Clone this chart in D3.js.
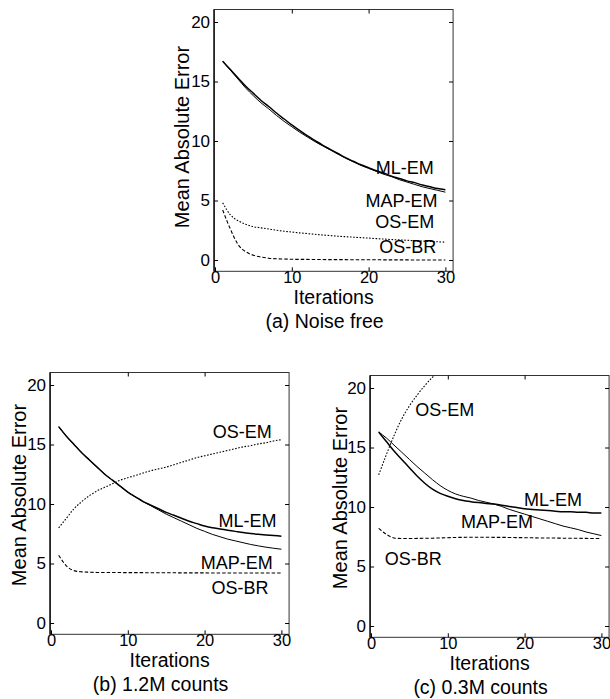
<!DOCTYPE html>
<html>
<head>
<meta charset="utf-8">
<script src="https://cdn.jsdelivr.net/npm/d3@7"></script>
<style>
body { margin: 0; background: #fff; }
text { font-family: "Liberation Sans", Arial, Helvetica, sans-serif; fill: #000; }
</style>
</head>
<body>
<script>
// iteration numbers shared by every curve
var iterations = [1, 2, 3, 4, 5, 6, 7, 8, 9, 10, 11, 12, 13, 14, 15,
                  16, 17, 18, 19, 20, 21, 22, 23, 24, 25, 26, 27, 28, 29, 30];

var seriesNames = ["ML-EM", "MAP-EM", "OS-EM", "OS-BR"];
var xTicks = [0, 10, 20, 30];
var yTicks = [0, 5, 10, 15, 20];

// (a) noise free
var freeML = [16.7, 16.0, 15.3, 14.6, 14.0, 13.4, 12.9, 12.35, 11.85, 11.35, 10.9, 10.45, 10.05, 9.65, 9.3,
              8.95, 8.6, 8.3, 8.0, 7.75, 7.5, 7.3, 7.05, 6.85, 6.65, 6.5, 6.3, 6.15, 6.0, 5.9];
var freeMAP = [16.7, 15.95, 15.2, 14.45, 13.8, 13.2, 12.7, 12.15, 11.65, 11.2, 10.75, 10.35, 9.95, 9.6, 9.25,
               8.9, 8.55, 8.25, 7.95, 7.7, 7.45, 7.2, 7.0, 6.75, 6.55, 6.35, 6.15, 6.0, 5.85, 5.7];
var freeOSEM = [4.8, 3.8, 3.3, 3.0, 2.8, 2.7, 2.6, 2.5, 2.42, 2.35, 2.28, 2.22, 2.16, 2.1, 2.05,
                2.0, 1.96, 1.92, 1.88, 1.84, 1.8, 1.76, 1.72, 1.69, 1.66, 1.62, 1.59, 1.56, 1.53, 1.5];
var freeOSBR = [4.2, 2.6, 1.3, 0.7, 0.4, 0.25, 0.15, 0.1, 0.08, 0.06, 0.05, 0.05, 0.04, 0.04, 0.03,
                0.03, 0.03, 0.02, 0.02, 0.02, 0.02, 0.01, 0.01, 0.01, 0.01, 0.0, 0.0, 0.0, 0.0, 0.0];

// (b) 1.2M counts
var highML = [16.5, 15.7, 15.0, 14.3, 13.7, 13.1, 12.5, 12.0, 11.5, 11.0, 10.6, 10.2, 9.9, 9.6, 9.3,
              9.05, 8.8, 8.55, 8.35, 8.15, 8.0, 7.9, 7.8, 7.7, 7.6, 7.52, 7.45, 7.4, 7.35, 7.3];
var highMAP = [16.5, 15.7, 15.0, 14.3, 13.7, 13.1, 12.5, 12.0, 11.5, 11.0, 10.6, 10.2, 9.85, 9.5, 9.15,
               8.85, 8.55, 8.25, 7.95, 7.7, 7.45, 7.25, 7.05, 6.9, 6.75, 6.6, 6.48, 6.37, 6.28, 6.2];
var highOSEM = [8.0, 8.8, 9.6, 10.2, 10.7, 11.1, 11.4, 11.7, 12.0, 12.2, 12.4, 12.6, 12.8, 12.95, 13.1,
                13.3, 13.5, 13.7, 13.9, 14.05, 14.2, 14.35, 14.5, 14.65, 14.8, 14.9, 15.05, 15.15, 15.3, 15.4];
var highOSBR = [5.7, 4.8, 4.4, 4.3, 4.27, 4.25, 4.25, 4.24, 4.24, 4.23, 4.23, 4.23, 4.22, 4.22, 4.22,
                4.22, 4.21, 4.21, 4.21, 4.21, 4.2, 4.2, 4.2, 4.2, 4.2, 4.2, 4.2, 4.2, 4.2, 4.2];

// (c) 0.3M counts
var lowML = [16.3, 15.5, 14.7, 14.0, 13.3, 12.6, 12.0, 11.5, 11.15, 10.9, 10.7, 10.55, 10.45, 10.37, 10.3,
             10.25, 10.15, 10.05, 9.95, 9.85, 9.8, 9.75, 9.7, 9.65, 9.6, 9.6, 9.55, 9.55, 9.5, 9.5];
var lowMAP = [16.3, 15.8, 15.2, 14.6, 14.0, 13.4, 12.85, 12.3, 11.8, 11.4, 11.1, 10.9, 10.75, 10.55, 10.4,
              10.25, 10.05, 9.8, 9.6, 9.4, 9.2, 9.0, 8.8, 8.6, 8.4, 8.25, 8.1, 7.9, 7.75, 7.6];
var lowOSEM = [12.7, 14.4, 16.0, 17.4, 18.5, 19.4, 20.2, 20.9, 21.5, 22.1];
var lowOSBR = [8.2, 7.7, 7.4, 7.35, 7.35, 7.36, 7.37, 7.38, 7.4, 7.42, 7.44, 7.45, 7.46, 7.46, 7.46,
               7.45, 7.45, 7.44, 7.43, 7.42, 7.41, 7.4, 7.4, 7.39, 7.38, 7.37, 7.37, 7.36, 7.35, 7.35];

var captions = ["(a) Noise free", "(b) 1.2M counts", "(c) 0.3M counts"];

// label anchor points in data units [iteration, error]
var freeLabelPos = [[24.7, 7.8], [24.3, 5.0], [24.7, 3.2], [25.1, 1.1]];
var highLabelPos = [[25.6, 8.65], [24.2, 5.1], [24.9, 16.05], [24.6, 2.95]];
var lowLabelPos = [[23.7, 10.6], [16.4, 8.75], [9.6, 18.15], [5.5, 5.7]];

var width = 610, height = 699;
var pxPerIter = 7.68, pxPerUnit = 11.9;

var svg = d3.select("body").append("svg")
    .attr("width", width)
    .attr("height", height);

svg.append("rect").attr("width", width).attr("height", height).attr("fill", "#fff");

var styles = {
    "ML-EM": { width: 1.5, dash: null },
    "MAP-EM": { width: 1.0, dash: null },
    "OS-EM": { width: 1.1, dash: "1.6,1.6" },
    "OS-BR": { width: 1.1, dash: "3.5,2" }
};

var panels = [
    { id: "a", ox: 215, oy: 260, caption: captions[0], title: [182, 137],
      data: [freeML, freeMAP, freeOSEM, freeOSBR], labels: freeLabelPos },
    { id: "b", ox: 51, oy: 623, caption: captions[1], title: [19, 495],
      data: [highML, highMAP, highOSEM, highOSBR], labels: highLabelPos },
    { id: "c", ox: 371, oy: 626, caption: captions[2], title: [340, 498],
      data: [lowML, lowMAP, lowOSEM, lowOSBR], labels: lowLabelPos }
];

panels.forEach(function(p) {
    var x = d3.scaleLinear().domain([0, 30]).range([p.ox, p.ox + 30 * pxPerIter]);
    var y = d3.scaleLinear().domain([0, 20]).range([p.oy, p.oy - 20 * pxPerUnit]);

    var left = x(-0.12), right = x(31.0), top = y(21.05), bottom = y(-0.95);

    var g = svg.append("g").attr("class", "panel-" + p.id);

    g.append("clipPath").attr("id", "clip-" + p.id)
        .append("rect")
        .attr("x", left).attr("y", top)
        .attr("width", right - left).attr("height", bottom - top);

    // frame
    g.append("rect")
        .attr("x", left).attr("y", top)
        .attr("width", right - left).attr("height", bottom - top)
        .attr("fill", "none")
        .attr("stroke", "#333")
        .attr("stroke-width", 1);
    g.append("line")
        .attr("x1", left).attr("x2", left).attr("y1", top).attr("y2", bottom)
        .attr("stroke", "#000").attr("stroke-width", 1.3);

    // axes, ticks pointing inward
    var yAxis = g.append("g")
        .attr("transform", "translate(" + left + ",0)")
        .call(d3.axisLeft(y).tickValues(yTicks).tickSize(-4).tickPadding(4));
    var xAxis = g.append("g")
        .attr("transform", "translate(0," + bottom + ")")
        .call(d3.axisBottom(x).tickValues(xTicks).tickSize(-4).tickPadding(0));
    g.append("g")
        .attr("transform", "translate(" + right + ",0)")
        .call(d3.axisRight(y).tickValues(yTicks).tickSize(-4).tickFormat(""));
    g.append("g")
        .attr("transform", "translate(0," + top + ")")
        .call(d3.axisTop(x).tickValues([10, 20]).tickSize(-4).tickFormat(""));

    g.selectAll(".domain").remove();
    g.selectAll(".tick line").attr("stroke", "#000").attr("stroke-width", 1);
    yAxis.attr("font-size", 17).attr("font-family", null);
    xAxis.attr("font-size", 16.5).attr("font-family", null);

    // curves
    var line = d3.line()
        .x(function(d) { return x(d[0]); })
        .y(function(d) { return y(d[1]); })
        .curve(d3.curveMonotoneX);

    var curves = g.append("g").attr("clip-path", "url(#clip-" + p.id + ")");
    p.data.forEach(function(vals, i) {
        var st = styles[seriesNames[i]];
        var pts = vals.map(function(v, k) { return [iterations[k], v]; });
        curves.append("path")
            .datum(pts)
            .attr("d", line)
            .attr("fill", "none")
            .attr("stroke", "#000")
            .attr("stroke-width", st.width)
            .attr("stroke-dasharray", st.dash);
    });

    // series labels
    g.selectAll(".lbl")
        .data(p.labels)
        .enter()
        .append("text")
        .attr("class", "lbl")
        .attr("x", function(d) { return x(d[0]); })
        .attr("y", function(d) { return y(d[1]); })
        .attr("dy", "0.36em")
        .attr("text-anchor", "middle")
        .attr("font-size", 18)
        .text(function(d, i) { return seriesNames[i]; });

    // axis titles
    g.append("text")
        .attr("transform", "translate(" + p.title[0] + "," + p.title[1] + ") rotate(-90)")
        .attr("dy", "0.36em")
        .attr("text-anchor", "middle")
        .attr("font-size", 20)
        .text("Mean Absolute Error");

    var cx = (left + right) / 2;
    g.append("text")
        .attr("x", cx).attr("y", bottom + 26)
        .attr("dy", "0.36em")
        .attr("text-anchor", "middle")
        .attr("font-size", 19.5)
        .text("Iterations");
    g.append("text")
        .attr("x", cx - 9).attr("y", bottom + 50)
        .attr("dy", "0.36em")
        .attr("text-anchor", "middle")
        .attr("font-size", 19.5)
        .text(p.caption);
});
</script>
</body>
</html>
